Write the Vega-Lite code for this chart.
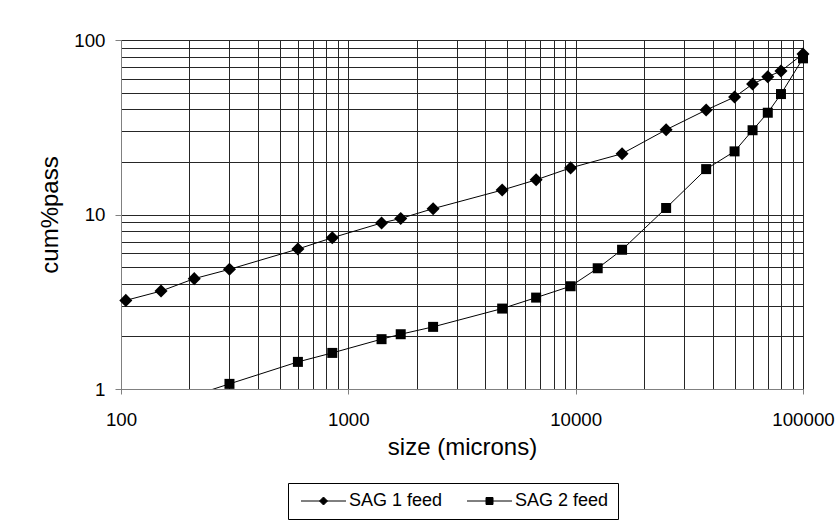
{
  "$schema": "https://vega.github.io/schema/vega-lite/v6.json",
  "width": 682,
  "height": 349,
  "autosize": "none",
  "padding": {"left": 121, "top": 40, "right": 35, "bottom": 137},
  "background": "#ffffff",
  "config": {
    "view": {"stroke": "#808080", "strokeWidth": 1},
    "font": "Liberation Sans",
    "axis": {
      "labelFont": "Liberation Sans",
      "titleFont": "Liberation Sans",
      "labelColor": "#000",
      "titleColor": "#000",
      "titleFontWeight": "normal",
      "gridColor": "#262626",
      "gridWidth": 1,
      "domainColor": "#808080",
      "tickColor": "#808080",
      "labelOverlap": false,
      "labelBound": false,
      "labelFlush": false
    }
  },
  "data": {
    "values": [
      {"series": "SAG 1 feed", "size": 75, "cum": 2.8},
      {"series": "SAG 1 feed", "size": 105, "cum": 3.22},
      {"series": "SAG 1 feed", "size": 150, "cum": 3.64},
      {"series": "SAG 1 feed", "size": 210, "cum": 4.29},
      {"series": "SAG 1 feed", "size": 300, "cum": 4.85},
      {"series": "SAG 1 feed", "size": 600, "cum": 6.34},
      {"series": "SAG 1 feed", "size": 850, "cum": 7.36},
      {"series": "SAG 1 feed", "size": 1400, "cum": 8.94},
      {"series": "SAG 1 feed", "size": 1700, "cum": 9.49},
      {"series": "SAG 1 feed", "size": 2360, "cum": 10.8},
      {"series": "SAG 1 feed", "size": 4750, "cum": 13.8},
      {"series": "SAG 1 feed", "size": 6700, "cum": 15.8},
      {"series": "SAG 1 feed", "size": 9500, "cum": 18.5},
      {"series": "SAG 1 feed", "size": 16000, "cum": 22.3},
      {"series": "SAG 1 feed", "size": 25000, "cum": 30.6},
      {"series": "SAG 1 feed", "size": 37500, "cum": 39.7},
      {"series": "SAG 1 feed", "size": 50000, "cum": 47.1},
      {"series": "SAG 1 feed", "size": 60000, "cum": 55.9},
      {"series": "SAG 1 feed", "size": 70000, "cum": 61.6},
      {"series": "SAG 1 feed", "size": 80000, "cum": 66.4},
      {"series": "SAG 1 feed", "size": 100000, "cum": 83.2},
      {"series": "SAG 2 feed", "size": 210, "cum": 0.92},
      {"series": "SAG 2 feed", "size": 300, "cum": 1.07},
      {"series": "SAG 2 feed", "size": 600, "cum": 1.43},
      {"series": "SAG 2 feed", "size": 850, "cum": 1.61},
      {"series": "SAG 2 feed", "size": 1400, "cum": 1.93},
      {"series": "SAG 2 feed", "size": 1700, "cum": 2.06},
      {"series": "SAG 2 feed", "size": 2360, "cum": 2.27},
      {"series": "SAG 2 feed", "size": 4750, "cum": 2.89},
      {"series": "SAG 2 feed", "size": 6700, "cum": 3.34},
      {"series": "SAG 2 feed", "size": 9500, "cum": 3.88},
      {"series": "SAG 2 feed", "size": 12500, "cum": 4.92},
      {"series": "SAG 2 feed", "size": 16000, "cum": 6.28},
      {"series": "SAG 2 feed", "size": 25000, "cum": 10.9},
      {"series": "SAG 2 feed", "size": 37500, "cum": 18.2},
      {"series": "SAG 2 feed", "size": 50000, "cum": 23.0},
      {"series": "SAG 2 feed", "size": 60000, "cum": 30.4},
      {"series": "SAG 2 feed", "size": 70000, "cum": 38.3},
      {"series": "SAG 2 feed", "size": 80000, "cum": 49.0},
      {"series": "SAG 2 feed", "size": 100000, "cum": 78.5}
    ]
  },
  "encoding": {
    "x": {
      "field": "size",
      "type": "quantitative",
      "scale": {"type": "log", "domain": [100, 100000], "nice": false},
      "axis": {
        "values": [100, 200, 300, 400, 500, 600, 700, 800, 900, 1000, 2000, 3000, 4000, 5000, 6000, 7000, 8000, 9000, 10000, 20000, 30000, 40000, 50000, 60000, 70000, 80000, 90000, 100000],
        "format": "d",
        "labelExpr": "abs(log(datum.value)/LN10 - round(log(datum.value)/LN10)) < 0.000001 ? datum.label : ''",
        "tickOpacity": {"condition": {"test": "abs(log(datum.value)/LN10 - round(log(datum.value)/LN10)) < 0.000001", "value": 1}, "value": 0},
        "tickSize": 5,
        "labelFontSize": 18.7,
        "labelPadding": 16,
        "title": "size (microns)",
        "titleFontSize": 24,
        "titleY": 58,
        "titleBaseline": "middle",
        "grid": true
      }
    },
    "y": {
      "field": "cum",
      "type": "quantitative",
      "scale": {"type": "log", "domain": [1, 100], "nice": false},
      "axis": {
        "values": [1, 2, 3, 4, 5, 6, 7, 8, 9, 10, 20, 30, 40, 50, 60, 70, 80, 90, 100],
        "format": "d",
        "labelExpr": "abs(log(datum.value)/LN10 - round(log(datum.value)/LN10)) < 0.000001 ? datum.label : ''",
        "tickOpacity": {"condition": {"test": "abs(log(datum.value)/LN10 - round(log(datum.value)/LN10)) < 0.000001", "value": 1}, "value": 0},
        "tickSize": 6,
        "labelFontSize": 18.7,
        "labelPadding": 10,
        "title": "cum%pass",
        "titleFontSize": 24,
        "titleX": -71,
        "titleY": 174.5,
        "titleAngle": -90,
        "titleAlign": "center",
        "titleBaseline": "middle",
        "grid": true
      }
    }
  },
  "layer": [
    {
      "mark": {"type": "line", "clip": true, "strokeWidth": 1},
      "encoding": {
        "color": {
          "field": "series",
          "type": "nominal",
          "scale": {"domain": ["SAG 1 feed", "SAG 2 feed"], "range": ["#000000", "#000000"]},
          "legend": {
            "orient": "none",
            "legendX": 167,
            "legendY": 443,
            "direction": "horizontal",
            "title": null,
            "strokeColor": "#000000",
            "fillColor": "#ffffff",
            "padding": 9,
            "labelFont": "Liberation Sans",
            "labelFontSize": 18,
            "labelColor": "#000",
            "labelOffset": 34,
            "columnPadding": 20,
            "symbolSize": 100,
            "symbolStrokeWidth": 1,
            "encode": {
              "symbols": {
                "update": {
                  "shape": {"signal": "datum.value === 'SAG 1 feed' ? 'M-1,0L8,0M3.5,-0.8L4.3,0L3.5,0.8L2.7,0Z' : 'M-1,0L8,0M2.8,-0.7L4.2,-0.7L4.2,0.7L2.8,0.7Z'"},
                  "fill": {"value": "#000000"},
                  "stroke": {"value": "#000000"},
                  "strokeWidth": {"value": 1},
                  "opacity": {"value": 1}
                }
              }
            }
          }
        }
      }
    },
    {
      "transform": [{"filter": "datum.series === 'SAG 1 feed' && datum.size >= 100 && datum.cum >= 1"}],
      "mark": {"type": "point", "filled": true, "opacity": 1, "color": "#000000", "shape": "diamond", "size": 170}
    },
    {
      "transform": [{"filter": "datum.series === 'SAG 2 feed' && datum.size >= 100 && datum.cum >= 1"}],
      "mark": {"type": "point", "filled": true, "opacity": 1, "color": "#000000", "shape": "square", "size": 100}
    }
  ]
}
